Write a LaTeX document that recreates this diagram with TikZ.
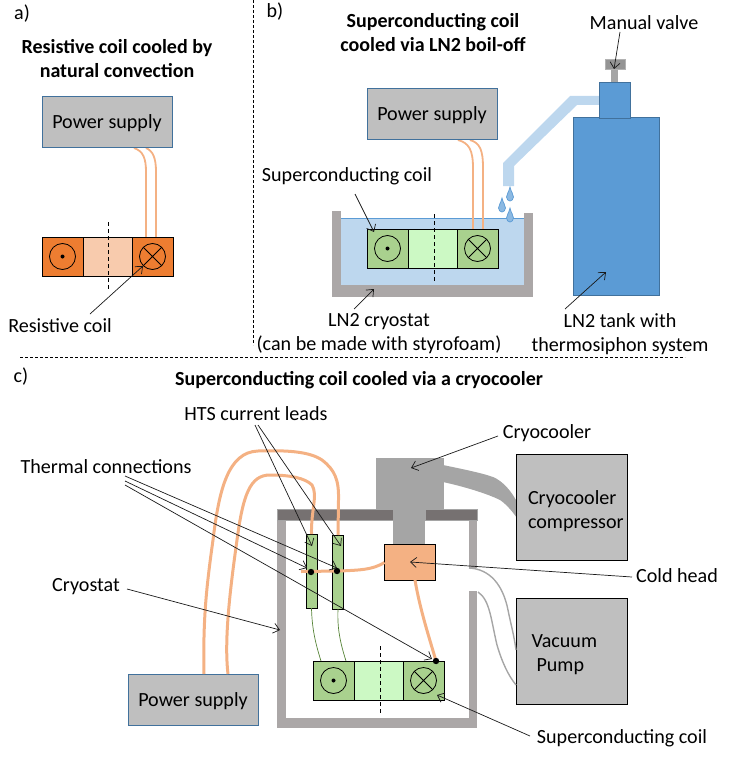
\documentclass[tikz,border=0pt]{standalone}
\usepackage{fontspec}
\setmainfont{Carlito}
\usetikzlibrary{arrows.meta}
\definecolor{psfill}{HTML}{BFBFBF}
\definecolor{psline}{HTML}{41719C}
\definecolor{wire}{HTML}{F4B183}
\definecolor{wirea}{HTML}{F4B183}
\definecolor{wall}{HTML}{ABA7A7}
\definecolor{plate}{HTML}{767171}
\definecolor{cooler}{HTML}{A5A5A5}
\definecolor{lntwo}{HTML}{BDD7EE}
\definecolor{tank}{HTML}{5B9BD5}
\definecolor{orangeD}{HTML}{ED7D31}
\definecolor{orangeL}{HTML}{F8CBAD}
\definecolor{greenD}{HTML}{A9D18E}
\definecolor{greenL}{HTML}{CCF9C4}
\definecolor{greenW}{HTML}{548235}
\newcommand{\coilpic}[4]{%
  \begin{scope}[shift={(#1,#2)}]
    \draw[fill=#3,line width=0.9pt] (0,0) rectangle (41,39);
    \draw[fill=#4,line width=0.9pt] (41,0) rectangle (90,39);
    \draw[fill=#3,line width=0.9pt] (90,0) rectangle (131,39);
    \draw[line width=0.8pt] (20.5,19.5) circle[radius=13pt];
    \fill (20.5,19.5) circle[radius=2pt];
    \draw[line width=0.8pt] (110.5,19.5) circle[radius=13pt];
    \draw[line width=0.8pt] (101.3,10.3) -- (119.7,28.7) (119.7,10.3) -- (101.3,28.7);
  \end{scope}}
\tikzset{
  psbox/.style={draw=psline,fill=psfill,line width=0.9pt,minimum width=130pt,minimum height=51pt,anchor=north west,inner sep=0pt,outer sep=0pt,lbl,text height=14pt,text depth=0pt},
  graybox/.style={draw=black,fill=psfill,line width=0.8pt,minimum width=111pt,minimum height=106pt,anchor=north west,inner sep=0pt,outer sep=0pt},
  lbl/.style={font=\fontsize{20.1}{24}\selectfont,inner sep=0pt,outer sep=0pt,align=center},
  ttl/.style={font=\fontsize{20}{24}\selectfont\bfseries,inner sep=0pt,outer sep=0pt,align=center},
  callout/.style={-{Straight Barb[length=6pt,width=10pt]},line width=0.7pt,black!90},
  sep/.style={line width=0.8pt,dash pattern=on 3pt off 2pt},
  axis/.style={line width=0.8pt,dash pattern=on 4pt off 3pt},
  thinwire/.style={wirea,line width=1.8pt},
  thickwire/.style={wire,line width=3pt},
  drip/.style={fill=tank!70,draw=tank,line width=0.7pt},
  droppic/.pic={\path[drip] (0,-8) .. controls (1,-3) and (3.5,-1) .. (3.5,2) .. controls (3.5,4.5) and (1.5,6) .. (0,6) .. controls (-1.5,6) and (-3.5,4.5) .. (-3.5,2) .. controls (-3.5,-1) and (-1,-3) .. cycle;}
}
\begin{document}
\begin{tikzpicture}[x=1pt,y=-1pt]
\useasboundingbox (0,0) rectangle (732,757);
% separators
\coordinate (sepVa) at (253,0); \coordinate (sepVb) at (253,345);
\coordinate (sepHa) at (20,357); \coordinate (sepHb) at (685,357);
\draw[sep] (sepVa) -- (sepVb);
\draw[sep] (sepHa) -- (sepHb);
% ---------- a
\node[lbl] (la) at (22,14) {a)};
\node[ttl] (ta) at (117,59) {Resistive coil cooled by\\natural convection};
\coordinate (wa1) at (134,148); \coordinate (wa2) at (146,237);
\coordinate (wa3) at (146,148); \coordinate (wa4) at (156,237);
\draw[thinwire] (wa1) .. controls (143,151) and (146,158) .. (146,172) -- (wa2);
\draw[thinwire] (wa3) .. controls (153,151) and (156,158) .. (156,172) -- (wa4);
\node[psbox] (psa) at (42,96) {Power supply};
\coilpic{42}{237}{orangeD}{orangeL}
\coordinate (axa1) at (108,222); \coordinate (axa2) at (108,289);
\draw[axis] (axa1) -- (axa2);
\node[lbl] (rc) at (60,326) {Resistive coil};
\coordinate (rcs) at (90,314); \coordinate (rct) at (143,266);
\draw[callout] (rcs) -- (rct);
% ---------- b
\node[lbl] (lb) at (275,12) {b)};
\node[ttl] (tb) at (433,33) {Superconducting coil\\cooled via LN2 boil-off};
\fill[lntwo] (341,218) rectangle (524,285);
\draw[tank,line width=0.7pt] (341,218.5) -- (524,218.5);
\fill[wall] (332,211) rectangle (341,297);
\fill[wall] (524,213) rectangle (533,297);
\fill[wall] (332,285) rectangle (533,297);
\coordinate (wb1) at (458,140); \coordinate (wb2) at (473,229);
\coordinate (wb3) at (470,140); \coordinate (wb4) at (483,229);
\draw[thinwire] (wb1) .. controls (469,143) and (473,150) .. (473,168) -- (wb2);
\draw[thinwire] (wb3) .. controls (480,143) and (483,150) .. (483,168) -- (wb4);
\node[psbox] (psb) at (367,88) {Power supply};
\coilpic{367}{229}{greenD}{greenL}
\coordinate (axb1) at (434.5,214); \coordinate (axb2) at (434.5,282);
\draw[axis] (axb1) -- (axb2);
\fill[lntwo] (503,186) -- (503,163) -- (570,96) -- (599,96) -- (599,105) -- (577,105) -- (514,166) -- (514,186) -- cycle;
\draw[fill=tank,draw=psline,line width=0.8pt] (573,117) rectangle (659,295);
\draw[fill=tank,draw=psline,line width=0.8pt] (599,82) rectangle (630,118);
\fill[cooler] (611,69) rectangle (618,82);
\draw[fill=black!42,draw=black!30,line width=0.6pt] (605,59) rectangle (625,69);
\pic at (510,195) {droppic};
\pic at (502,206) {droppic};
\pic at (510,216) {droppic};
\node[lbl] (mv) at (644,23) {Manual valve};
\coordinate (mvs) at (620,32); \coordinate (mvt) at (614,69);
\draw[callout] (mvs) -- (mvt);
\node[lbl] (scb) at (347,176) {Superconducting coil};
\coordinate (scbs) at (355,194); \coordinate (scbt) at (374,232);
\draw[callout] (scbs) -- (scbt);
\node[lbl] (cb) at (379,334) {LN2 cryostat\\(can be made with styrofoam)};
\coordinate (cbs) at (354,309); \coordinate (cbt) at (374,289);
\draw[callout] (cbs) -- (cbt);
\node[lbl] (tk) at (620,334) {LN2 tank with\\thermosiphon system};
\coordinate (tks) at (565,309); \coordinate (tkt) at (606,272);
\draw[callout] (tks) -- (tkt);
% ---------- c
\node[lbl] (lc) at (21,377) {c)};
\node[ttl] (tc) at (359,380) {Superconducting coil cooled via a cryocooler};
% cryocooler and cryostat
\fill[cooler] (443,465) .. controls (462,469) and (482,473) .. (493,477) .. controls (503,481) and (512,492) .. (517,502) -- (517,518) .. controls (512,511) and (506,504) .. (500,500) .. controls (490,495) and (470,488) .. (443,482) -- cycle;
\fill[wall] (277,520) rectangle (286,728);
\fill[wall] (277,718) rectangle (477,728);
\fill[wall] (469,520) rectangle (477,568);
\fill[wall] (469,591) rectangle (477,726);
\draw[fill=plate,draw=cooler,line width=0.7pt] (277,509.5) rectangle (393,520);
\draw[fill=plate,draw=cooler,line width=0.7pt] (425,509.5) rectangle (477,520);
\fill[cooler] (376,458) rectangle (444,509.5);
\fill[cooler] (393,509) rectangle (425,545);
\node[graybox] (comp) at (516.5,454.5) {};
\node[lbl,align=left,anchor=west] (compt) at (528,511) {Cryocooler\\compressor};
\node[graybox] (vac) at (516.5,598) {};
\node[lbl,align=left,anchor=west] (vact) at (531.5,655) {Vacuum\\\hspace*{5pt}Pump};
% vacuum lines
\coordinate (v1a) at (469,568); \coordinate (v1b) at (516,650);
\coordinate (v2a) at (478,592); \coordinate (v2b) at (516,685);
\draw[black!35,line width=1.4pt] (v1a) .. controls (490,569) and (503,585) .. (508,610) .. controls (511,625) and (514,635) .. (v1b);
\draw[black!35,line width=1.4pt] (v2a) .. controls (490,600) and (491,620) .. (497,645) .. controls (502,662) and (508,675) .. (v2b);
% cold head, leads
\node[draw,fill=wire,line width=0.8pt,minimum width=50.5pt,minimum height=36pt,anchor=north west,inner sep=0pt,outer sep=0pt] (ch) at (384.5,544.5) {};
\node[draw,fill=greenD,line width=0.8pt,minimum width=11pt,minimum height=74pt,anchor=north west,inner sep=0pt,outer sep=0pt] (l1) at (306,534) {};
\node[draw,fill=greenD,line width=0.8pt,minimum width=11pt,minimum height=74pt,anchor=north west,inner sep=0pt,outer sep=0pt] (l2) at (332.5,535) {};
\node[psbox,anchor=north west] (psc) at (128,674) {Power supply};
% big wires
\coordinate (w1s) at (204,674); \coordinate (w2s) at (228,674);
\draw[thickwire] (w1s) .. controls (203,620) and (206,590) .. (213,540) .. controls (219,490) and (228,452) .. (258,451) .. controls (290,450) and (310,452) .. (322,460) .. controls (335,470) and (339,480) .. (338.5,500) -- (l2.north);
\draw[thickwire] (w2s) .. controls (224,640) and (230,590) .. (237,540) .. controls (243,495) and (250,475) .. (270,475) .. controls (290,475) and (305,478) .. (312,485) .. controls (318,495) and (311,510) .. (l1.north);
\coordinate (tha) at (301,571.5); \coordinate (thb) at (340,571);
\draw[thickwire] (tha) -- (thb) .. controls (360,570) and (372,570) .. (ch.west);
\coordinate (chb) at (415,580); \coordinate (sct) at (436,661);
\draw[thickwire] (chb) .. controls (420,610) and (430,640) .. (sct);
\coordinate (g1) at (321,661); \coordinate (g2) at (346,661);
\draw[greenW,line width=0.7pt] (l1.south) .. controls (312,630) and (316,645) .. (g1);
\draw[greenW,line width=0.7pt] (l2.south) .. controls (337,630) and (341,645) .. (g2);
\coilpic{313}{661}{greenD}{greenL}
\coordinate (axc1) at (380,646); \coordinate (axc2) at (380,714);
\draw[axis] (axc1) -- (axc2);
\fill (311,572) circle[radius=3.2pt];
\fill (337,571) circle[radius=3.2pt];
\fill (sct) circle[radius=3.2pt];
% callouts c
\node[lbl] (hts) at (256,414) {HTS current leads};
\coordinate (hs1) at (255,425); \coordinate (ht1) at (312,546);
\coordinate (hs2) at (258,425); \coordinate (ht2) at (341,546);
\draw[callout] (hs1) -- (ht1);
\draw[callout] (hs2) -- (ht2);
\node[lbl] (thm) at (106,467) {Thermal connections};
\coordinate (ts1) at (125,476); \coordinate (tt1) at (337,568);
\coordinate (ts2) at (125,481); \coordinate (tt2) at (307,568);
\coordinate (ts3) at (125,485); \coordinate (tt3) at (432,659);
\draw[callout] (ts1) -- (tt1);
\draw[callout] (ts2) -- (tt2);
\draw[callout] (ts3) -- (tt3);
\node[lbl] (cry) at (86,587) {Cryostat};
\coordinate (crs) at (127,589); \coordinate (crt) at (280,630);
\draw[callout] (crs) -- (crt);
\node[lbl] (ccl) at (547,433) {Cryocooler};
\coordinate (ccs) at (498,436); \coordinate (cct) at (411,468);
\draw[callout] (ccs) -- (cct);
\node[lbl] (chl) at (677,576) {Cold head};
\coordinate (chs) at (632,577); \coordinate (cht) at (410,562);
\draw[callout] (chs) -- (cht);
\node[lbl] (scc) at (622,738) {Superconducting coil};
\coordinate (sccs) at (530,736); \coordinate (scct) at (437,695);
\draw[callout] (sccs) -- (scct);
\end{tikzpicture}
\end{document}
